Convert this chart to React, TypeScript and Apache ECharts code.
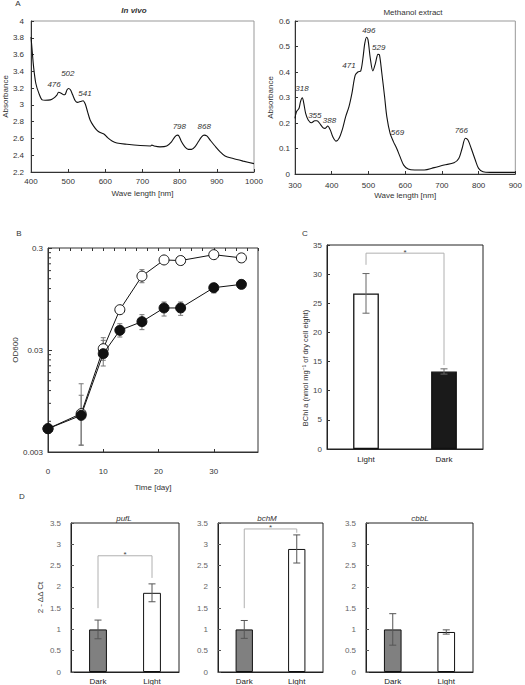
import React, { useEffect, useRef } from 'react';
import * as echarts from 'echarts';

const FONT = '"Liberation Sans", Arial, Helvetica, sans-serif';

// ---------- Panel A: in vivo spectrum ----------
const inVivoWavelength = [400, 403, 407, 413, 421, 430, 438, 452, 461, 470, 474, 481, 488, 492, 497, 501, 506, 512, 519, 525, 533, 540, 546, 552, 559, 568, 577, 586, 597, 606, 618, 631, 658, 694, 721, 725, 731, 747, 765, 778, 787, 794, 798, 805, 814, 823, 832, 841, 850, 859, 866, 873, 882, 895, 909, 922, 944, 971, 1000];
const inVivoAbsorbance = [3.81, 3.65, 3.45, 3.255, 3.14, 3.06, 3.056, 3.06, 3.08, 3.12, 3.15, 3.14, 3.12, 3.125, 3.18, 3.195, 3.18, 3.12, 3.05, 3.03, 3.04, 3.05, 3.01, 2.92, 2.82, 2.75, 2.7, 2.67, 2.65, 2.61, 2.57, 2.546, 2.53, 2.515, 2.51, 2.52, 2.51, 2.5, 2.51, 2.56, 2.62, 2.64, 2.63, 2.56, 2.5, 2.47, 2.47, 2.5, 2.56, 2.62, 2.64, 2.63, 2.58, 2.51, 2.44, 2.39, 2.36, 2.33, 2.3];
const inVivoPeakNames = ['476', '502', '541', '798', '868'];
const inVivoPeakLabelX = [462, 499, 545, 799, 866];
const inVivoPeakLabelY = [3.24, 3.37, 3.13, 2.74, 2.74];

// ---------- Panel A: methanol extract spectrum ----------
const methanolWavelength = [300, 304, 311, 315, 320, 324, 329, 336, 345, 354, 360, 367, 376, 382, 389, 396, 403, 412, 420, 429, 438, 447, 455, 464, 472, 479, 485, 490, 495, 499, 505, 512, 519, 526, 530, 536, 544, 550, 559, 568, 577, 586, 596, 608, 626, 652, 679, 706, 733, 746, 755, 764, 771, 780, 791, 800, 812, 831, 900];
const methanolAbsorbance = [0.218, 0.244, 0.258, 0.284, 0.299, 0.277, 0.238, 0.212, 0.201, 0.209, 0.209, 0.199, 0.182, 0.179, 0.188, 0.173, 0.146, 0.129, 0.14, 0.175, 0.225, 0.264, 0.316, 0.388, 0.401, 0.404, 0.454, 0.512, 0.536, 0.525, 0.454, 0.404, 0.434, 0.469, 0.467, 0.401, 0.303, 0.225, 0.159, 0.127, 0.1, 0.068, 0.035, 0.0196, 0.0157, 0.0157, 0.025, 0.035, 0.044, 0.061, 0.1, 0.14, 0.133, 0.1, 0.055, 0.022, 0.009, 0.0065, 0.0065];
const methanolPeakNames = ['318', '355', '388', '471', '496', '529', '569', '766'];
const methanolPeakLabelX = [319, 354, 394, 447, 501, 528, 579, 753];
const methanolPeakLabelY = [0.337, 0.231, 0.208, 0.424, 0.561, 0.498, 0.161, 0.169];

// ---------- Panel B: growth ----------
const growthDays = [0, 6, 10, 13, 17, 21, 24, 30, 35];
const lightOD = [0.00508, 0.00713, 0.0309, 0.0745, 0.159, 0.229, 0.226, 0.258, 0.24];
const darkOD = [0.00508, 0.00686, 0.0276, 0.0468, 0.0569, 0.0775, 0.0775, 0.1225, 0.132];
const lightErrDays = [6, 10, 17];
const lightErrLow = [0.0035, 0.0238, 0.137];
const lightErrHigh = [0.0108, 0.0396, 0.184];
const darkErrDays = [6, 10, 13, 17, 21, 24, 30];
const darkErrLow = [0.0035, 0.0209, 0.0402, 0.0475, 0.0646, 0.0656, 0.1087];
const darkErrHigh = [0.014, 0.0373, 0.0543, 0.0666, 0.0886, 0.0886, 0.134];
const odBase = 0.003;
const odTickLabels = ['0.003', '0.03', '0.3'];
const odMinorTicks = [0.006, 0.009, 0.012, 0.015, 0.018, 0.021, 0.024, 0.027, 0.06, 0.09, 0.12, 0.15, 0.18, 0.21, 0.24, 0.27];
const dayTickLabels = ['0', '10', '20', '30'];

// ---------- Panel C: BChl a ----------
const bchlCategories = ['Light', 'Dark'];
const bchlValues = [26.7, 13.3];
const bchlErrors = [3.4, 0.45];
const bchlBracket = [0, 1, 31.6, 33.6, 14.4];

// ---------- Panel D: qPCR ----------
const geneCategories = ['Dark', 'Light'];
const geneNames = ['pufL', 'bchM', 'cbbL'];
const pufLValues = [1.0, 1.86];
const pufLErrors = [0.22, 0.21];
const bchMValues = [1.0, 2.89];
const bchMErrors = [0.21, 0.33];
const cbbLValues = [1.0, 0.94];
const cbbLErrors = [0.37, 0.05];
const pufLBracket = [0, 1, 1.5, 2.73, 2.21];
const bchMBracket = [0, 1, 1.5, 3.36, 3.27];

const toLogY = (v: number) => Math.log10(v / odBase);

function errorBarRender(capHalf: number, color: string) {
  return (_params: any, api: any) => {
    const x = api.value(0);
    const lo = api.coord([x, api.value(1)]);
    const hi = api.coord([x, api.value(2)]);
    const style = { stroke: color, lineWidth: 1 };
    return {
      type: 'group',
      children: [
        { type: 'line', shape: { x1: lo[0], y1: lo[1], x2: hi[0], y2: hi[1] }, style },
        { type: 'line', shape: { x1: lo[0] - capHalf, y1: lo[1], x2: lo[0] + capHalf, y2: lo[1] }, style },
        { type: 'line', shape: { x1: hi[0] - capHalf, y1: hi[1], x2: hi[0] + capHalf, y2: hi[1] }, style },
      ],
    };
  };
}

function bracketRender(_params: any, api: any) {
  const i0 = api.value(0);
  const i1 = api.value(1);
  const a = api.coord([i0, api.value(2)]);
  const b = api.coord([i0, api.value(3)]);
  const c = api.coord([i1, api.value(3)]);
  const d = api.coord([i1, api.value(4)]);
  return {
    type: 'group',
    children: [
      { type: 'polyline', shape: { points: [a, b, c, d] }, style: { stroke: '#b0b0b0', fill: null, lineWidth: 1 } },
      {
        type: 'text',
        x: (b[0] + c[0]) / 2,
        y: b[1] - 1,
        style: { text: '*', textAlign: 'center', textVerticalAlign: 'middle', fontSize: 8, fill: '#444', fontFamily: FONT },
      },
    ],
  };
}

function peakLabelRender(names: string[]) {
  return (params: any, api: any) => {
    const p = api.coord([api.value(0), api.value(1)]);
    return {
      type: 'text',
      x: p[0],
      y: p[1],
      style: {
        text: names[params.dataIndex],
        textAlign: 'center',
        textVerticalAlign: 'middle',
        fontSize: 8,
        fontStyle: 'italic',
        fill: '#333',
        fontFamily: FONT,
      },
    };
  };
}

const labelStyle = (margin: number, extra: any = {}) => ({
  fontSize: 8,
  color: '#333',
  fontFamily: FONT,
  margin,
  ...extra,
});

const nameStyle = { fontSize: 8, color: '#333', fontFamily: FONT };

function buildOption() {
  const grids = [
    { left: 30, top: 21, width: 224, height: 151, show: true, borderColor: '#999', borderWidth: 1 },
    { left: 295, top: 21, width: 224, height: 153, show: true, borderColor: '#999', borderWidth: 1 },
    { left: 48, top: 248, width: 210, height: 204, show: true, borderColor: '#333', borderWidth: 1 },
    { left: 327, top: 245, width: 156, height: 204, show: true, borderColor: '#222', borderWidth: 1 },
    { left: 71, top: 523, width: 108, height: 149, show: true, borderColor: '#222', borderWidth: 1 },
    { left: 218, top: 523, width: 105, height: 149, show: true, borderColor: '#222', borderWidth: 1 },
    { left: 366, top: 523, width: 107, height: 149, show: true, borderColor: '#222', borderWidth: 1 },
  ];

  const spectrumX = (grid: number, min: number, max: number, margin: number) => ({
    type: 'value',
    gridIndex: grid,
    min,
    max,
    interval: 100,
    axisLine: { lineStyle: { color: '#333', width: 1 } },
    axisTick: { inside: true, length: 3, lineStyle: { color: '#333' } },
    axisLabel: labelStyle(margin, { formatter: (v: number) => String(v) }),
    splitLine: { show: false },
    name: 'Wave length [nm]',
    nameLocation: 'middle',
    nameGap: 17,
    nameTextStyle: nameStyle,
  });

  const geneX = (grid: number) => ({
    type: 'category',
    gridIndex: grid,
    data: geneCategories,
    axisLine: { lineStyle: { color: '#222' } },
    axisTick: { show: false },
    axisLabel: labelStyle(5, { color: '#222' }),
  });

  const geneY = (grid: number, withName: boolean) => ({
    type: 'value',
    gridIndex: grid,
    min: 0,
    max: 3.5,
    interval: 0.5,
    axisLine: { show: true, lineStyle: { color: '#222' } },
    axisTick: { show: true, inside: true, length: 3, lineStyle: { color: '#555' } },
    axisLabel: labelStyle(10, { color: '#666' }),
    splitLine: { show: false },
    name: withName ? '2 - ΔΔ Ct' : '',
    nameLocation: 'middle',
    nameGap: 27,
    nameTextStyle: nameStyle,
  });

  const xAxis: any[] = [
    spectrumX(0, 400, 1000, 5),
    spectrumX(1, 300, 900, 7),
    {
      type: 'value',
      gridIndex: 2,
      min: 0,
      max: 38,
      interval: 10,
      axisLine: { lineStyle: { color: '#333' } },
      axisTick: { inside: true, length: 3, lineStyle: { color: '#333' } },
      axisLabel: labelStyle(15, { showMaxLabel: false, formatter: (v: number) => dayTickLabels[v / 10] ?? '' }),
      splitLine: { show: false },
      name: 'Time [day]',
      nameLocation: 'middle',
      nameGap: 31,
      nameTextStyle: nameStyle,
    },
    {
      type: 'value',
      gridIndex: 2,
      min: 0,
      max: 38,
      interval: 2,
      axisLine: { show: false },
      axisTick: { inside: true, length: 3, lineStyle: { color: '#333' } },
      axisLabel: { show: false },
      splitLine: { show: false },
    },
    {
      type: 'category',
      gridIndex: 3,
      data: bchlCategories,
      axisLine: { lineStyle: { color: '#222' } },
      axisTick: { show: false },
      axisLabel: labelStyle(6, { color: '#222' }),
    },
    geneX(4),
    geneX(5),
    geneX(6),
  ];

  const yAxis: any[] = [
    {
      type: 'value',
      gridIndex: 0,
      min: 2.2,
      max: 4,
      interval: 0.2,
      axisLine: { show: true, lineStyle: { color: '#333' } },
      axisTick: { show: true, inside: true, length: 3, lineStyle: { color: '#333' } },
      axisLabel: labelStyle(7),
      splitLine: { show: false },
      name: 'Absorbance',
      nameLocation: 'middle',
      nameGap: 22,
      nameTextStyle: nameStyle,
    },
    {
      type: 'value',
      gridIndex: 1,
      min: 0,
      max: 0.6,
      interval: 0.1,
      axisLine: { show: true, lineStyle: { color: '#333' } },
      axisTick: { show: true, inside: true, length: 3, lineStyle: { color: '#333' } },
      axisLabel: labelStyle(5),
      splitLine: { show: false },
      name: 'Absorbance',
      nameLocation: 'middle',
      nameGap: 18,
      nameTextStyle: nameStyle,
    },
    {
      type: 'value',
      gridIndex: 2,
      min: 0,
      max: 2,
      interval: 1,
      axisLine: { show: true, lineStyle: { color: '#333' } },
      axisTick: { show: true, inside: true, length: 4, lineStyle: { color: '#333' } },
      axisLabel: labelStyle(5, { formatter: (v: number) => odTickLabels[Math.round(v)] ?? '' }),
      splitLine: { show: false },
      name: 'OD600',
      nameLocation: 'middle',
      nameGap: 13,
      nameTextStyle: nameStyle,
    },
    {
      type: 'value',
      gridIndex: 3,
      min: 0,
      max: 35,
      interval: 5,
      axisLine: { show: true, lineStyle: { color: '#222' } },
      axisTick: { show: true, inside: true, length: 3, lineStyle: { color: '#333' } },
      axisLabel: labelStyle(5, { color: '#444' }),
      splitLine: { show: false },
    },
    geneY(4, true),
    geneY(5, false),
    geneY(6, false),
  ];

  const barItems = (values: number[], colors: string[], border: number) =>
    values.map((v, i) => ({
      value: v,
      itemStyle: { color: colors[i], borderColor: '#111', borderWidth: border },
    }));

  const geneColors = ['#808080', '#ffffff'];
  const geneSets = [
    { values: pufLValues, errors: pufLErrors, bracket: pufLBracket },
    { values: bchMValues, errors: bchMErrors, bracket: bchMBracket },
    { values: cbbLValues, errors: cbbLErrors, bracket: null as number[] | null },
  ];

  const series: any[] = [
    {
      type: 'line',
      xAxisIndex: 0,
      yAxisIndex: 0,
      showSymbol: false,
      smooth: 0.3,
      lineStyle: { color: '#111', width: 1.1 },
      data: inVivoWavelength.map((w, i) => [w, inVivoAbsorbance[i]]),
    },
    {
      type: 'custom',
      xAxisIndex: 0,
      yAxisIndex: 0,
      renderItem: peakLabelRender(inVivoPeakNames),
      data: inVivoPeakLabelX.map((x, i) => [x, inVivoPeakLabelY[i]]),
      z: 5,
    },
    {
      type: 'line',
      xAxisIndex: 1,
      yAxisIndex: 1,
      showSymbol: false,
      smooth: 0.3,
      lineStyle: { color: '#111', width: 1.1 },
      data: methanolWavelength.map((w, i) => [w, methanolAbsorbance[i]]),
    },
    {
      type: 'custom',
      xAxisIndex: 1,
      yAxisIndex: 1,
      renderItem: peakLabelRender(methanolPeakNames),
      data: methanolPeakLabelX.map((x, i) => [x, methanolPeakLabelY[i]]),
      z: 5,
    },
    // Panel B minor log ticks
    {
      type: 'custom',
      xAxisIndex: 2,
      yAxisIndex: 2,
      clip: false,
      renderItem: (_p: any, api: any) => {
        const p = api.coord([0, api.value(1)]);
        return { type: 'line', shape: { x1: p[0], y1: p[1], x2: p[0] + 3, y2: p[1] }, style: { stroke: '#333', lineWidth: 1 } };
      },
      data: odMinorTicks.map((v) => [0, toLogY(v)]),
    },
    {
      type: 'custom',
      xAxisIndex: 2,
      yAxisIndex: 2,
      renderItem: errorBarRender(2.5, '#777'),
      data: lightErrDays.map((d, i) => [d, toLogY(lightErrLow[i]), toLogY(lightErrHigh[i])]),
      z: 2,
    },
    {
      type: 'custom',
      xAxisIndex: 2,
      yAxisIndex: 2,
      renderItem: errorBarRender(2.5, '#777'),
      data: darkErrDays.map((d, i) => [d, toLogY(darkErrLow[i]), toLogY(darkErrHigh[i])]),
      z: 2,
    },
    {
      type: 'line',
      name: 'Light',
      xAxisIndex: 2,
      yAxisIndex: 2,
      symbol: 'circle',
      symbolSize: 10,
      lineStyle: { color: '#111', width: 1 },
      itemStyle: { color: '#ffffff', borderColor: '#111', borderWidth: 1 },
      data: growthDays.map((d, i) => [d, toLogY(lightOD[i])]),
      z: 3,
    },
    {
      type: 'line',
      name: 'Dark',
      xAxisIndex: 2,
      yAxisIndex: 2,
      symbol: 'circle',
      symbolSize: 10,
      lineStyle: { color: '#111', width: 1 },
      itemStyle: { color: '#111', borderColor: '#111', borderWidth: 1 },
      data: growthDays.map((d, i) => [d, toLogY(darkOD[i])]),
      z: 4,
    },
    // Panel C
    {
      type: 'bar',
      xAxisIndex: 4,
      yAxisIndex: 3,
      barWidth: '33%',
      data: barItems(bchlValues, ['#ffffff', '#1a1a1a'], 1.3),
    },
    {
      type: 'custom',
      xAxisIndex: 4,
      yAxisIndex: 3,
      renderItem: errorBarRender(3.5, '#666'),
      data: bchlValues.map((v, i) => [i, v - bchlErrors[i], v + bchlErrors[i]]),
      z: 5,
    },
    {
      type: 'custom',
      xAxisIndex: 4,
      yAxisIndex: 3,
      encode: { x: 0, y: 2 },
      renderItem: bracketRender,
      data: [bchlBracket],
      z: 5,
    },
  ];

  geneSets.forEach((set, k) => {
    series.push({
      type: 'bar',
      xAxisIndex: 5 + k,
      yAxisIndex: 4 + k,
      barWidth: '33%',
      data: barItems(set.values, geneColors, 1),
    });
    series.push({
      type: 'custom',
      xAxisIndex: 5 + k,
      yAxisIndex: 4 + k,
      renderItem: errorBarRender(3.5, '#555'),
      data: set.values.map((v, i) => [i, v - set.errors[i], v + set.errors[i]]),
      z: 5,
    });
    if (set.bracket) {
      series.push({
        type: 'custom',
        xAxisIndex: 5 + k,
        yAxisIndex: 4 + k,
        encode: { x: 0, y: 2 },
        renderItem: bracketRender,
        data: [set.bracket],
        z: 5,
      });
    }
  });

  const txt = (text: string, x: number, y: number, extra: any = {}) => ({
    type: 'text',
    x,
    y,
    style: {
      text,
      fontSize: 8,
      fill: '#333',
      fontFamily: FONT,
      textAlign: 'center',
      textVerticalAlign: 'middle',
      ...extra,
    },
  });

  const graphic: any[] = [
    txt('A', 18, 3),
    txt('B', 19, 233),
    txt('C', 305, 233),
    txt('D', 22, 496),
    txt('In vivo', 134, 10, { fontStyle: 'italic', fontWeight: 'bold' }),
    txt('Methanol extract', 413, 12),
    txt(geneNames[0], 124, 518, { fontStyle: 'italic' }),
    txt(geneNames[1], 267, 518, { fontStyle: 'italic' }),
    txt(geneNames[2], 420, 518, { fontStyle: 'italic' }),
    {
      type: 'text',
      x: 305,
      y: 368,
      rotation: Math.PI / 2,
      style: {
        text: 'BChl a (nmol mg⁻¹ of dry cell eight)',
        fontSize: 7.5,
        fill: '#333',
        fontFamily: FONT,
        textAlign: 'center',
        textVerticalAlign: 'middle',
      },
    },
  ];

  return {
    animation: false,
    backgroundColor: '#ffffff',
    textStyle: { fontFamily: FONT },
    grid: grids,
    xAxis,
    yAxis,
    series,
    graphic,
  };
}

export default function App() {
  const ref = useRef<HTMLDivElement>(null);
  useEffect(() => {
    if (!ref.current) return;
    const chart = echarts.init(ref.current, undefined, { renderer: 'svg' });
    chart.setOption(buildOption() as any);
    return () => chart.dispose();
  }, []);
  return (
    <div
      ref={ref}
      style={{ position: 'fixed', left: 0, top: 0, width: 525, height: 685, background: '#fff' }}
    />
  );
}
